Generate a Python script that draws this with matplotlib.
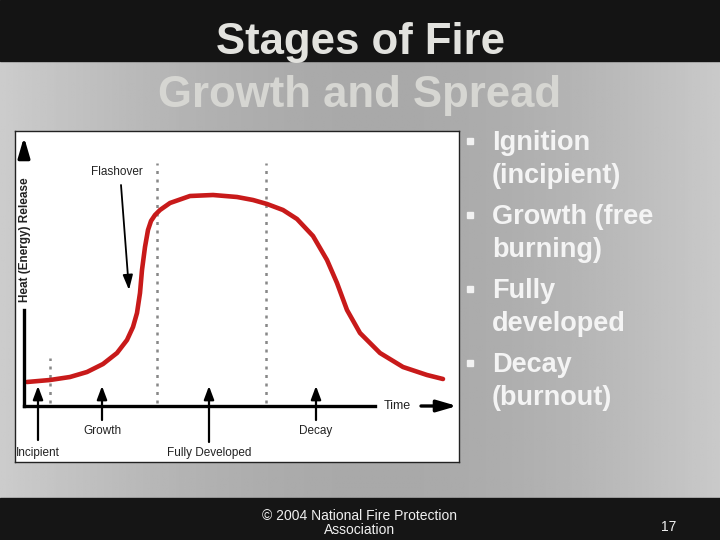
import numpy as np
import matplotlib
matplotlib.use("Agg")
import matplotlib.pyplot as plt

# curve values (time, heat release), arbitrary units
time = [3, 26, 46, 63, 79, 93, 103, 109, 113, 116, 118, 121, 124, 127, 131,
        136, 146, 166, 189, 213, 229, 243, 259, 273, 289, 303, 313, 323, 336,
        356, 379, 403, 419]
heat = [24, 26, 29, 34, 42, 53, 66, 79, 93, 113, 136, 159, 176, 185, 191,
        196, 203, 210, 211, 209, 206, 202, 196, 187, 170, 146, 123, 96, 73,
        53, 39, 31, 27]

# stage boundaries (dotted lines) and their heights
boundary_t = [26, 133, 242]
boundary_top = [48, 243, 243]

# stage labels under the time axis
stage_names = ["Incipient", "Growth", "Fully Developed", "Decay"]
stage_t = [14, 78, 185, 292]
stage_label_y = [-47, -25, -47, -25]

title_lines = ["Stages of Fire", "Growth and Spread"]
bullets = [["Ignition", "(incipient)"], ["Growth (free", "burning)"],
           ["Fully", "developed"], ["Decay", "(burnout)"]]
footer = "© 2004 National Fire Protection\nAssociation"
page_no = "17"

plt.rcParams["font.family"] = ["Liberation Sans", "DejaVu Sans"]

fig = plt.figure(figsize=(7.2, 5.4), dpi=100)

# slide background
bg = fig.add_axes([0, 0, 1, 1])
bg.set_xlim(0, 720)
bg.set_ylim(540, 0)
bg.axis("off")
grad = np.linspace(0, 1, 300)
shade = 0.80 - 0.16 * np.sin(grad * np.pi * 0.9) + 0.04 * grad
bg.imshow(np.tile(shade, (10, 1)), cmap="gray", vmin=0, vmax=1,
          extent=[0, 720, 498, 61], aspect="auto")
bg.add_patch(plt.Rectangle((0, 0), 720, 61, color="#141414"))
bg.add_patch(plt.Rectangle((0, 498), 720, 42, color="#151515"))
bg.text(360, 54, title_lines[0], ha="center", va="baseline", fontsize=31.5,
        fontweight="bold", color="#e2e2de")
bg.text(360, 107, title_lines[1], ha="center", va="baseline", fontsize=31.5,
        fontweight="bold", color="#d6d6d2")

base = 150
for first, second in bullets:
    bg.plot(470, base - 9, marker="s", ms=5, color="#f2f2f2")
    bg.text(492, base, first, ha="left", va="baseline", fontsize=19.5,
            fontweight="bold", color="#f4f4f4")
    bg.text(492, base + 33, second, ha="left", va="baseline", fontsize=19.5,
            fontweight="bold", color="#f4f4f4")
    base += 74

bg.text(360, 523, footer, ha="center", va="center", fontsize=10, color="#f0f0f0",
        linespacing=1.05)
bg.text(669, 527, page_no, ha="center", va="center", fontsize=10, color="#f0f0f0")

# chart
ax = fig.add_axes([15 / 720, 1 - 462 / 540, 444 / 720, 331 / 540])
ax.set_xlim(-9, 435)
ax.set_ylim(-56, 275)
ax.set_xticks([])
ax.set_yticks([])
for s in ax.spines.values():
    s.set_color("#222222")
    s.set_linewidth(1.0)
ax.set_facecolor("white")

for t, top in zip(boundary_t, boundary_top):
    ax.plot([t, t], [3, top], color="#888888", linestyle=(0, (1.2, 2.2)), lw=1.8)

ax.plot(time, heat, color="#c81a1a", lw=3.3, solid_capstyle="round",
        solid_joinstyle="round", zorder=4)

# axes lines
ax.plot([0, 351], [0, 0], color="black", lw=2.4, zorder=5)
ax.plot([0, 0], [0, 96], color="black", lw=2.4, zorder=5)
ax.annotate("", xy=(0, 269), xytext=(0, 253),
            arrowprops=dict(arrowstyle="-|>,head_length=1.2,head_width=0.35",
                            color="black", lw=2.4, shrinkA=0, shrinkB=0))
ax.annotate("", xy=(433, 0), xytext=(397, 0),
            arrowprops=dict(arrowstyle="-|>,head_length=1.2,head_width=0.35",
                            color="black", lw=2.4, shrinkA=0, shrinkB=0))
ax.text(373, 0, "Time", ha="center", va="center", fontsize=9, color="#222222")
ax.text(1, 166, "Heat (Energy) Release", rotation=90, ha="center", va="center",
        fontsize=8.5, fontweight="bold", color="#222222")

# stage arrows
arrow_bottom = [-34, -14, -36, -14]
for name, t, ly, yb in zip(stage_names, stage_t, stage_label_y, arrow_bottom):
    ax.annotate("", xy=(t, 20), xytext=(t, yb),
                arrowprops=dict(arrowstyle="-|>,head_length=0.8,head_width=0.3",
                                color="black", lw=1.6, shrinkA=0, shrinkB=0))
    ax.text(t if name != "Incipient" else -8, ly, name,
            ha="center" if name != "Incipient" else "left", va="center",
            fontsize=8.5, color="#222222")

ax.text(93, 234, "Flashover", ha="center", va="center", fontsize=8.5, color="#222222")
ax.annotate("", xy=(105, 116), xytext=(97, 221),
            arrowprops=dict(arrowstyle="-|>,head_length=0.9,head_width=0.3",
                            color="black", lw=1.3, shrinkA=0, shrinkB=0))

fig.savefig("out.png", dpi=100)
